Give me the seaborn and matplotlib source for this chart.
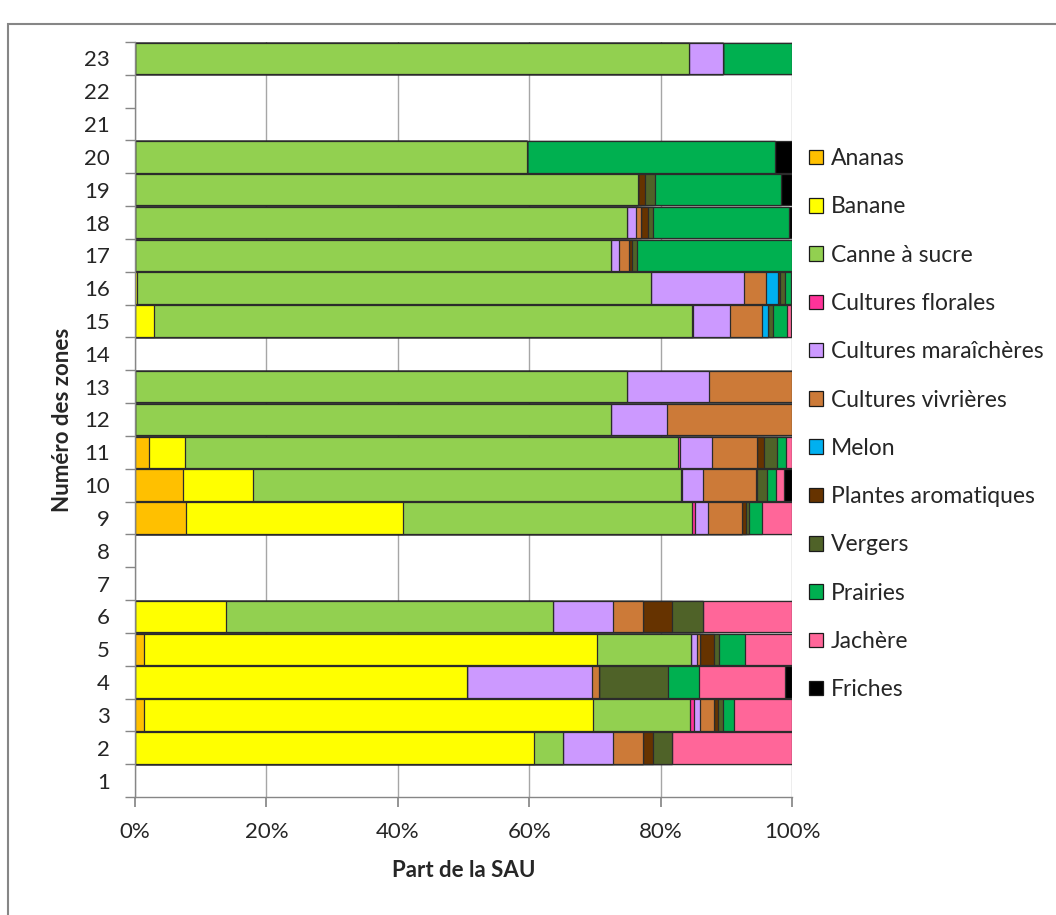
import numpy as np
import matplotlib.pyplot as plt
import pandas as pd
import seaborn as sns
from matplotlib.patches import Patch, Rectangle

# zones that have data (the others stay empty)
zones = ["2", "3", "4", "5", "6", "9", "10", "11", "12", "13",
         "15", "16", "17", "18", "19", "20", "23"]
all_zones = [str(z) for z in range(23, 0, -1)]

cultures = ["Ananas", "Banane", "Canne à sucre", "Cultures florales",
            "Cultures maraîchères", "Cultures vivrières", "Melon",
            "Plantes aromatiques", "Vergers", "Prairies", "Jachère", "Friches"]
colors = ["#FFC000", "#FFFF00", "#92D050", "#FF3399", "#CC99FF", "#CC7A38",
          "#00B0F0", "#663300", "#4F6228", "#00B050", "#FF6699", "#000000"]

# part de la SAU (%) per zone, same order as `zones`
ananas = [0, 1.4, 0, 1.4, 0, 7.8, 7.3, 2.1, 0, 0, 0, 0, 0, 0, 0, 0, 0]
banane = [60.7, 68.3, 50.6, 68.9, 13.8, 33.0, 10.6, 5.5, 0, 0, 2.9, 0.3, 0, 0, 0, 0, 0]
canne = [4.5, 14.8, 0, 14.3, 49.8, 44.0, 65.2, 75.1, 72.4, 74.9, 81.9, 78.3, 72.5, 74.9, 76.6, 59.7, 84.3]
florales = [0, 0.6, 0, 0, 0, 0.5, 0.2, 0.2, 0, 0, 0.2, 0, 0, 0, 0, 0, 0]
maraicheres = [7.6, 0.9, 18.9, 0.9, 9.2, 1.9, 3.1, 4.9, 8.5, 12.5, 5.5, 14.1, 1.2, 1.4, 0, 0, 5.2]
vivrieres = [4.5, 2.1, 1.1, 0.5, 4.5, 5.2, 8.1, 6.9, 19.1, 12.6, 5.0, 3.3, 1.5, 0.7, 0, 0, 0]
melon = [0, 0, 0, 0, 0, 0, 0, 0, 0, 0, 0.8, 1.9, 0, 0, 0, 0, 0]
aromatiques = [1.5, 0.7, 0, 2.1, 4.4, 0.6, 0.2, 1.0, 0, 0, 0, 0.2, 0.5, 1.1, 1.1, 0, 0]
vergers = [3.0, 0.7, 10.6, 0.8, 4.7, 0.4, 1.5, 2.0, 0, 0, 0.8, 0.8, 0.7, 0.7, 1.5, 0, 0]
prairies = [0, 1.6, 4.6, 4.0, 0, 2.0, 1.3, 1.4, 0, 0, 2.1, 0.9, 23.6, 20.8, 19.2, 37.7, 10.5]
jachere = [18.2, 8.9, 13.1, 7.1, 13.6, 4.6, 1.3, 0.9, 0, 0, 0.6, 0.2, 0, 0, 0, 0, 0]
friches = [0, 0, 1.1, 0, 0, 0, 1.2, 0, 0, 0, 0.2, 0, 0, 0.4, 1.6, 2.6, 0]

series = [ananas, banane, canne, florales, maraicheres, vivrieres, melon,
          aromatiques, vergers, prairies, jachere, friches]

df = pd.DataFrame(dict(zip(cultures, series)))
df["zone"] = zones
cum = df[cultures].cumsum(axis=1)
cum["zone"] = zones

sns.set_theme(style="white")
plt.rcParams["font.family"] = ["Lato", "DejaVu Sans"]

fig = plt.figure(figsize=(10.56, 9.15), dpi=100)
ax = fig.add_axes([135 / 1056, 1 - 797 / 915, 657 / 1056, 755 / 915])

# stacked bars: draw cumulative totals from last to first
for cult, col in reversed(list(zip(cultures, colors))):
    sns.barplot(data=cum, x=cult, y="zone", order=all_zones, orient="y",
                color=col, saturation=1, width=0.96, errorbar=None,
                edgecolor="#2b2b2b", linewidth=0.9, ax=ax)

ax.set_xlim(0, 100)
ax.set_ylim(len(all_zones) - 0.5, -0.5)
ax.set_xticks([0, 20, 40, 60, 80, 100])
ax.set_xticklabels(["0%", "20%", "40%", "60%", "80%", "100%"])
ax.xaxis.grid(True, color="#A6A6A6", linewidth=1)
ax.set_axisbelow(True)
ax.tick_params(axis="x", which="major", bottom=True, length=7, color="#868686",
               labelsize=16, labelcolor="#262626", pad=11)
ax.tick_params(axis="y", which="major", left=False, labelsize=16,
               labelcolor="#262626", pad=12)
ax.set_yticks(np.arange(len(all_zones) + 1) - 0.5, minor=True)
ax.tick_params(axis="y", which="minor", left=True, length=7, color="#868686")

for s in ["top", "right"]:
    ax.spines[s].set_visible(False)
for s in ["left", "bottom"]:
    ax.spines[s].set_color("#868686")
    ax.spines[s].set_linewidth(1)

ax.set_xlabel("Part de la SAU", fontsize=16, fontweight="bold", labelpad=13)
ax.set_ylabel("Numéro des zones", fontsize=16, fontweight="bold", labelpad=8)

handles = [Patch(facecolor=c, edgecolor="#1a1a1a", linewidth=0.9, label=l)
           for l, c in zip(cultures, colors)]
fig.legend(handles=handles, loc="upper left",
           bbox_to_anchor=(800 / 1056, 1 - 139 / 915), frameon=False,
           fontsize=16.5, labelspacing=1.19, handlelength=0.6, handleheight=0.6,
           handletextpad=0.35, borderaxespad=0)

# chart area border (partly cropped in the original)
fig.patches.append(Rectangle((8 / 1056, -0.05), 1.2, 1 - 24 / 915 + 0.05,
                             transform=fig.transFigure, fill=False,
                             edgecolor="#868686", linewidth=1.5))

fig.savefig("out.png", dpi=100)
